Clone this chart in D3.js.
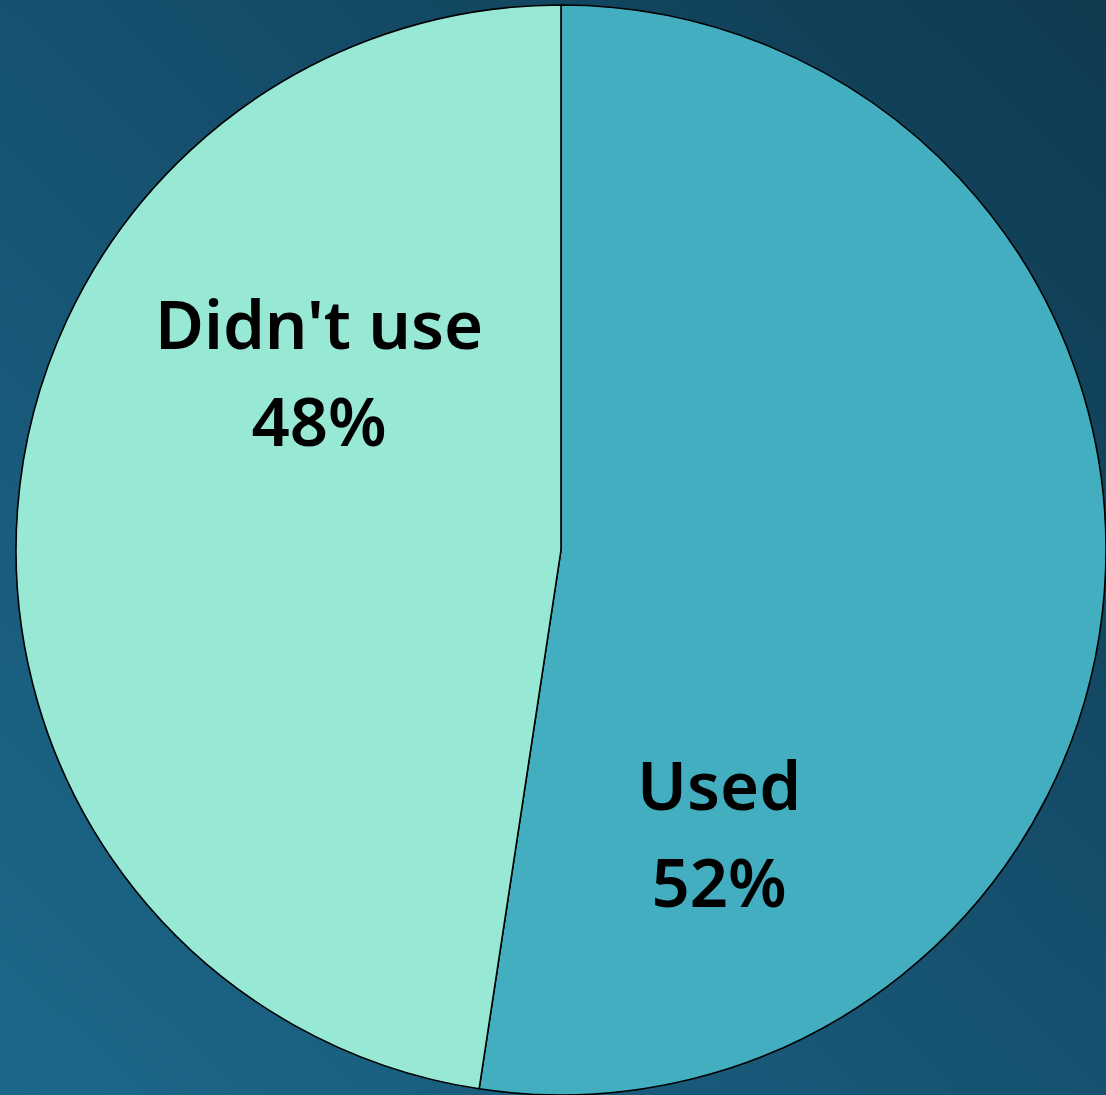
<!DOCTYPE html>
<html>
<head>
<meta charset="utf-8">
<script src="https://cdn.jsdelivr.net/npm/d3@7"></script>
<style>
  html, body { margin: 0; padding: 0; }
  body { width: 1106px; height: 1095px; overflow: hidden; }
</style>
</head>
<body>
<svg id="chart" width="1106" height="1095"></svg>
<script>
// data
const categories = ['Used', "Didn't use"];
const shares = [52.4, 47.6];
const labels = ['52%', '48%'];
const colors = ['#42aebf', '#98e8d6'];

const W = 1106, H = 1095;
const cx = 561, cy = 550, radius = 545;
// label placement (angle from 12 o'clock clockwise, distance from centre)
const labelPos = [{ a: 151, r: 326 }, { a: 306, r: 299 }];

const svg = d3.select('#chart');

const defs = svg.append('defs');
const grad = defs.append('linearGradient')
  .attr('id', 'bg').attr('x1', '0').attr('y1', '1').attr('x2', '1').attr('y2', '0');
grad.append('stop').attr('offset', '0').attr('stop-color', '#1c6889');
grad.append('stop').attr('offset', '0.5').attr('stop-color', '#165170');
grad.append('stop').attr('offset', '1').attr('stop-color', '#0e3a4f');

svg.append('rect').attr('width', W).attr('height', H).attr('fill', 'url(#bg)');

const data = categories.map((c, i) => ({ cat: c, value: shares[i], label: labels[i], color: colors[i] }));

const pie = d3.pie().sort(null).value(d => d.value);
const arc = d3.arc().innerRadius(0).outerRadius(radius);

const g = svg.append('g').attr('transform', `translate(${cx},${cy})`);

g.selectAll('path')
  .data(pie(data))
  .join('path')
  .attr('d', arc)
  .attr('fill', d => d.data.color)
  .attr('stroke', '#000')
  .attr('stroke-width', 1.6)
  .attr('stroke-linejoin', 'round');

const txt = g.selectAll('text.lbl')
  .data(data)
  .join('text')
  .attr('class', 'lbl')
  .attr('text-anchor', 'middle')
  .attr('font-family', "'Segoe UI', 'Noto Sans', 'Open Sans', sans-serif")
  .attr('font-weight', 600)
  .attr('font-size', 67)
  .attr('fill', '#000')
  .attr('transform', (d, i) => {
    const a = labelPos[i].a * Math.PI / 180;
    return `translate(${labelPos[i].r * Math.sin(a)},${-labelPos[i].r * Math.cos(a)})`;
  });

txt.append('tspan').attr('x', 0).attr('y', -25).text(d => d.cat);
txt.append('tspan').attr('x', 0).attr('y', 72).text(d => d.label);
</script>
</body>
</html>
